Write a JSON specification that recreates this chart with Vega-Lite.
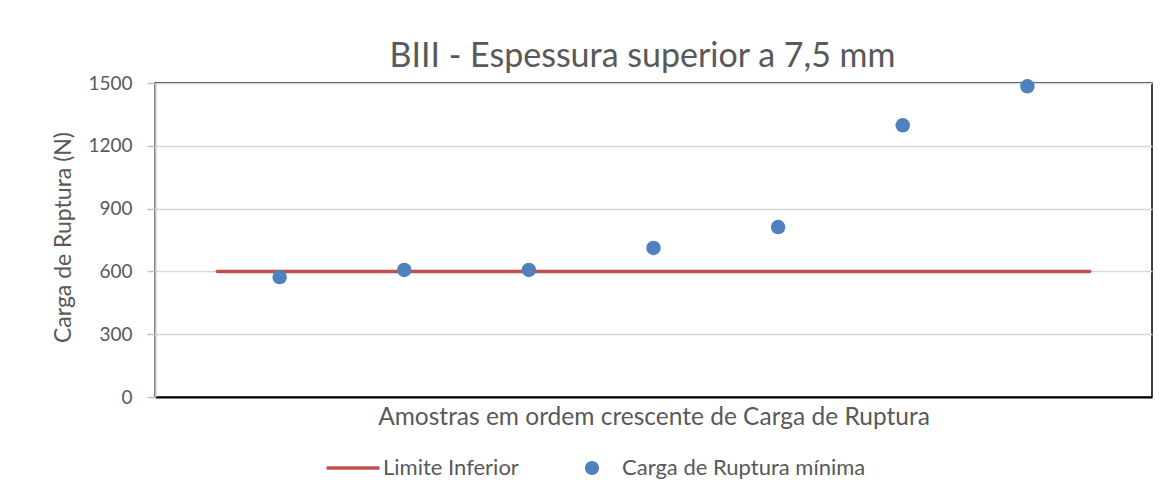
{
  "$schema": "https://vega.github.io/schema/vega-lite/v6.json",
  "width": 997,
  "height": 314,
  "autosize": {"type": "none"},
  "padding": {"left": 155, "top": 83, "right": 18, "bottom": 101},
  "background": "white",
  "config": {
    "font": "Lato",
    "view": {"stroke": "#000000", "strokeWidth": 1.5},
    "axis": {"labelColor": "#595959", "titleColor": "#595959", "labelFont": "Lato", "titleFont": "Lato", "titleFontWeight": "normal"},
    "legend": {"labelColor": "#595959", "labelFont": "Lato"}
  },
  "title": {
    "text": "BIII - Espessura superior a 7,5 mm",
    "fontSize": 34,
    "font": "Lato",
    "fontWeight": "normal",
    "color": "#595959",
    "anchor": "middle",
    "dx": -11,
    "offset": 0
  },
  "data": {
    "values": [
      {"amostra": 0.5, "carga": 600, "serie": "Limite Inferior"},
      {"amostra": 7.5, "carga": 600, "serie": "Limite Inferior"},
      {"amostra": 1, "carga": 573, "serie": "Carga de Ruptura mínima"},
      {"amostra": 2, "carga": 607, "serie": "Carga de Ruptura mínima"},
      {"amostra": 3, "carga": 607, "serie": "Carga de Ruptura mínima"},
      {"amostra": 4, "carga": 712, "serie": "Carga de Ruptura mínima"},
      {"amostra": 5, "carga": 812, "serie": "Carga de Ruptura mínima"},
      {"amostra": 6, "carga": 1298, "serie": "Carga de Ruptura mínima"},
      {"amostra": 7, "carga": 1484, "serie": "Carga de Ruptura mínima"}
    ]
  },
  "encoding": {
    "x": {
      "field": "amostra",
      "type": "quantitative",
      "scale": {"domain": [0, 8], "nice": false},
      "axis": {
        "title": "Amostras em ordem crescente de Carga de Ruptura",
        "titleFontSize": 24.5,
        "titlePadding": 8,
        "labels": false,
        "ticks": false,
        "grid": false,
        "domainColor": "#000000",
        "domainWidth": 2
      }
    },
    "y": {
      "field": "carga",
      "type": "quantitative",
      "scale": {"domain": [0, 1500], "nice": false},
      "axis": {
        "title": "Carga de Ruptura (N)",
        "titleFontSize": 23,
        "titleX": -92,
        "titleY": 154,
        "titleAngle": -90,
        "titleBaseline": "middle",
        "titleAlign": "center",
        "values": [0, 300, 600, 900, 1200, 1500],
        "format": "d",
        "labelFontSize": 19,
        "labelPadding": 15,
        "tickSize": 8,
        "tickColor": "#bfbfbf",
        "tickWidth": 1.5,
        "domainColor": "#bfbfbf",
        "domainWidth": 2,
        "gridColor": "#d9d9d9",
        "gridWidth": 1.5
      }
    },
    "color": {
      "field": "serie",
      "type": "nominal",
      "scale": {"domain": ["Limite Inferior", "Carga de Ruptura mínima"], "range": ["#c0504d", "#4f81bd"]},
      "legend": {
        "title": null,
        "orient": "none",
        "direction": "horizontal",
        "legendX": 187,
        "legendY": 374,
        "labelFontSize": 22,
        "labelLimit": 500,
        "labelOffset": 19,
        "columnPadding": 62,
        "encode": {
          "symbols": {
            "update": {
              "shape": {"signal": "datum.value === 'Limite Inferior' ? 'stroke' : 'circle'"},
              "size": {"signal": "datum.value === 'Limite Inferior' ? 2800 : 200"},
              "strokeWidth": {"signal": "datum.value === 'Limite Inferior' ? 3.5 : 0"},
              "stroke": {"signal": "datum.value === 'Limite Inferior' ? '#c0504d' : '#4f81bd'"},
              "fill": {"signal": "datum.value === 'Limite Inferior' ? 'transparent' : '#4f81bd'"},
              "opacity": {"value": 1}
            }
          }
        }
      }
    }
  },
  "layer": [
    {
      "transform": [{"filter": "datum.serie === 'Limite Inferior'"}],
      "mark": {"type": "line", "strokeWidth": 3.5, "strokeCap": "round"}
    },
    {
      "transform": [{"filter": "datum.serie === 'Carga de Ruptura mínima'"}],
      "mark": {"type": "point", "filled": true, "size": 210, "opacity": 1}
    }
  ]
}
